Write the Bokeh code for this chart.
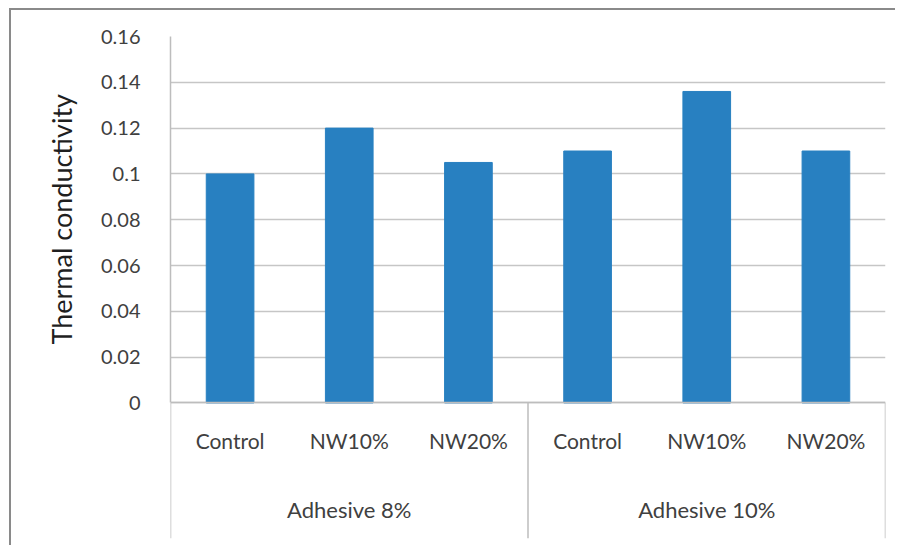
from bokeh.plotting import figure
from bokeh.models import (FactorRange, Range1d, FixedTicker, ColumnDataSource,
                          CustomJSTickFormatter, Title)
from bokeh.core.properties import value
from bokeh.embed import file_html
from bokeh.resources import INLINE

# Data
groups = ["Adhesive 8%", "Adhesive 10%"]
treatments = ["Control", "NW10%", "NW20%"]
conductivity = [0.1, 0.12, 0.105, 0.11, 0.136, 0.11]
y_ticks = [0, 0.02, 0.04, 0.06, 0.08, 0.1, 0.12, 0.14, 0.16]
y_tick_labels = ["0", "0.02", "0.04", "0.06", "0.08", "0.1", "0.12", "0.14", "0.16"]
y_title = "Thermal conductivity"

FONT = "Lato"
TEXT = "#404040"
GRID = "#c6c6c6"
AXIS = "#bdbdbd"
BAR = "#2880c1"

factors = [(g, t) for g in groups for t in treatments]
x_range = FactorRange(*factors, factor_padding=0, group_padding=0, range_padding=0)
# the frame reaches below zero so the category box sits inside it
Y_LOW = -0.0592
y_range = Range1d(Y_LOW, 0.16)

p = figure(
    width=886, height=537,
    x_range=x_range, y_range=y_range,
    output_backend="svg", toolbar_location=None,
    min_border_left=159, min_border_right=12,
    min_border_top=26, min_border_bottom=9,
    styles={
        "margin-left": "9px", "margin-top": "8px",
        "border-left": "2px solid #8a8a8a", "border-top": "2px solid #8a8a8a",
    },
)
p.outline_line_color = None
p.background_fill_color = "white"
p.border_fill_color = "white"

src = ColumnDataSource(data=dict(x=factors, top=conductivity))
p.vbar(x="x", top="top", bottom=0, width=0.4, source=src,
       fill_color=BAR, line_color=BAR, line_width=1)

# Grid only over the value span
p.xgrid.visible = False
p.ygrid.ticker = FixedTicker(ticks=y_ticks)
p.ygrid.grid_line_color = GRID
p.ygrid.grid_line_width = 1.5

# Value axis
ya = p.yaxis[0]
ya.ticker = FixedTicker(ticks=y_ticks)
ya.formatter = CustomJSTickFormatter(
    args=dict(vals=y_ticks, labels=y_tick_labels),
    code="""
    for (let i = 0; i < vals.length; i++) {
        if (Math.abs(vals[i] - tick) < 1e-9) return labels[i];
    }
    return "";
    """,
)
ya.bounds = (0, 0.16)
ya.axis_line_color = AXIS
ya.axis_line_width = 1.5
ya.major_tick_line_color = None
ya.minor_tick_line_color = None
ya.major_label_standoff = 24
ya.major_label_text_font = FONT
ya.major_label_text_font_size = "20px"
ya.major_label_text_color = TEXT

# Axis title, starting from the bottom of the panel and lifted onto the value span
p.add_layout(Title(
    text=y_title, align="left", offset=194, standoff=40,
    text_font=FONT, text_font_size="27px", text_font_style="normal",
    text_color="#1f1f1f",
), "left")

# Category axis drawn at zero inside the frame
xa = p.xaxis[0]
xa.fixed_location = 0
xa.axis_line_color = AXIS
xa.axis_line_width = 1.5
xa.major_tick_line_color = None
xa.minor_tick_line_color = None
xa.separator_line_color = None
xa.major_label_standoff = 19
xa.major_label_text_font = FONT
xa.major_label_text_font_size = "21px"
xa.major_label_text_color = TEXT
xa.group_text_color = None

# Group names under the treatment labels
grp_src = ColumnDataSource(data=dict(x=[(g, treatments[1]) for g in groups], name=groups))
p.text(x="x", y=-0.0465, text="name", source=grp_src,
       text_align="center", text_baseline="middle",
       text_font=value(FONT), text_font_size="22px", text_color=TEXT)

# Vertical lines of the category box
edges = ColumnDataSource(data=dict(
    x=[(groups[0], treatments[0], -0.5),
       (groups[1], treatments[0], -0.5),
       (groups[1], treatments[-1], 0.5)],
))
p.segment(x0="x", x1="x", y0=0, y1=Y_LOW, source=edges,
          line_color=AXIS, line_width=1.5)

open("out.html", "w").write(file_html(p, INLINE))
